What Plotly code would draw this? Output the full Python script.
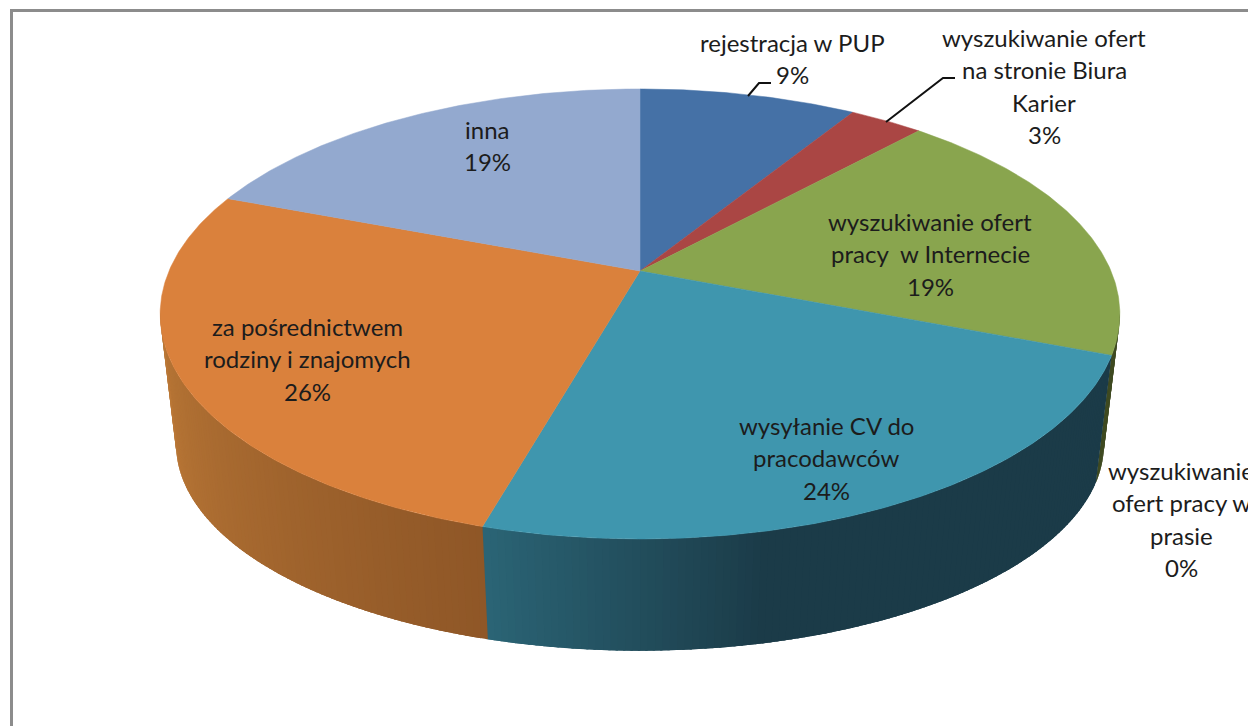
"""Tilted 3D-look pie of job search methods, built from filled Plotly traces."""

import numpy as np
import plotly.graph_objects as go

# Data
categories = [
    "rejestracja w PUP",
    "wyszukiwanie ofert na stronie Biura Karier",
    "wyszukiwanie ofert pracy w Internecie",
    "wyszukiwanie ofert pracy w prasie",
    "wysyłanie CV do pracodawców",
    "za pośrednictwem rodziny i znajomych",
    "inna",
]
shares = [8.8, 3.0, 19.1, 0.0, 23.5, 26.4, 19.2]
label_lines = [
    ["rejestracja w PUP"],
    ["wyszukiwanie ofert", "na stronie Biura", "Karier"],
    ["wyszukiwanie ofert", "pracy\u00a0 w Internecie"],
    ["wyszukiwanie", "ofert pracy w", "prasie"],
    ["wysyłanie CV do", "pracodawców"],
    ["za pośrednictwem", "rodziny i znajomych"],
    ["inna"],
]

# Styling and layout
top_colors = ["#4571A6", "#AA4644", "#89A54E", "#71588F", "#3F96AE", "#DA813C", "#93A9CF"]
wall_near = ["#2B5F80", "#6E2C2B", "#3F4A20", "#3F3355", "#1B3B48", "#BC7937", "#5F6F8A"]
wall_far = ["#2B5F80", "#6E2C2B", "#3F4A20", "#3F3355", "#2B6576", "#8F5727", "#5F6F8A"]
label_centers = [(792, 42), (1044, 37), (930, 221), (1181, 470), (826, 425), (307, 326), (487, 129)]
LINE_GAP = 32.5
FONT = dict(family="Lato, Carlito, sans-serif", size=24, color="#1c1c1c")
WIDTH, HEIGHT = 1248, 726

# Perspective of the top and bottom discs, in pixels
CX = 640
TOP = dict(y0=271, a=471.0, b=216.8, k=0.191)
BOTTOM = dict(y0=405, a=455.5, b=199.0, k=0.19)
# The wall only shows between the disc's two silhouette points
WALL_FROM, WALL_TO = 100, 260


def project(angles_deg, disc):
    """Map clockwise-from-north angles on a disc to picture coordinates."""

    rad = np.radians(angles_deg)
    u, v = np.sin(rad), np.cos(rad)
    w = 1 + disc["k"] * v
    return CX + disc["a"] * u / w, disc["y0"] - disc["b"] * v / w


def mix(c1, c2, t):
    """Blend two hex colours."""

    a = [int(c1[i:i + 2], 16) for i in (1, 3, 5)]
    b = [int(c2[i:i + 2], 16) for i in (1, 3, 5)]
    return "rgb({},{},{})".format(*[round(p + (q - p) * t) for p, q in zip(a, b)])


edges = np.concatenate([[0], np.cumsum(shares)]) * 3.6

fig = go.Figure()

# Side wall: strips overlap the next one so no seams show
for i, (start, end) in enumerate(zip(edges[:-1], edges[1:])):
    lo, hi = max(start, WALL_FROM), min(end, WALL_TO)
    if hi <= lo:
        continue
    steps = max(int((hi - lo) / 0.75), 1)
    for j in range(steps):
        a0 = lo + (hi - lo) * j / steps
        a1 = lo + (hi - lo) * (j + 1) / steps
        if i == 4:
            # flat dark until x of about 770, then lighter towards the seam
            t = min(max((a0 - 167) / (hi - 167), 0), 1)
        else:
            t = (a0 - lo) / (hi - lo)
            t = 1 - t if i == 5 else t
        color = mix(wall_near[i], wall_far[i], t)
        reach = a1 + 1.0 if j < steps - 1 else a1
        arc = np.linspace(a0, reach, 3)
        x_top, y_top = project(arc, TOP)
        x_bot, y_bot = project(arc[::-1], BOTTOM)
        fig.add_trace(
            go.Scatter(
                x=np.concatenate([x_top, x_bot]),
                y=np.concatenate([y_top, y_bot]),
                mode="lines",
                fill="toself",
                fillcolor=color,
                line=dict(width=0),
                hoverinfo="skip",
                showlegend=False,
            )
        )

# Top face
for i, (start, end) in enumerate(zip(edges[:-1], edges[1:])):
    if end <= start:
        continue
    arc = np.linspace(start, end, max(int(end - start) * 2, 4))
    x_arc, y_arc = project(arc, TOP)
    fig.add_trace(
        go.Scatter(
            x=np.concatenate([[CX], x_arc, [CX]]),
            y=np.concatenate([[TOP["y0"]], y_arc, [TOP["y0"]]]),
            mode="lines",
            fill="toself",
            fillcolor=top_colors[i],
            line=dict(color=top_colors[i], width=0.5),
            name=categories[i],
            hoverinfo="name",
            showlegend=False,
        )
    )

# Labels: one annotation a line, Excel's line spacing is wider than Plotly's
for lines, value, (lx, ly) in zip(label_lines, shares, label_centers):
    for n, text in enumerate(lines + [f"{round(value)}%"]):
        fig.add_annotation(
            x=lx,
            y=ly + n * LINE_GAP,
            text=text,
            showarrow=False,
            font=FONT,
            xanchor="center",
            yanchor="middle",
        )

# Leader lines and the chart border that runs off the crop
fig.add_shape(type="path", path="M 748 96 L 759 83 L 771 83", line=dict(color="#111111", width=2))
fig.add_shape(type="path", path="M 886 122 L 943 78 L 955 78", line=dict(color="#111111", width=2))
fig.add_shape(
    type="path",
    path=f"M 11.5 {HEIGHT} L 11.5 10.5 L {WIDTH} 10.5",
    line=dict(color="#8C8C8C", width=3),
)

fig.update_xaxes(visible=False, range=[0, WIDTH], fixedrange=True)
fig.update_yaxes(visible=False, range=[HEIGHT, 0], fixedrange=True)
fig.update_layout(
    width=WIDTH,
    height=HEIGHT,
    margin=dict(l=0, r=0, t=0, b=0),
    paper_bgcolor="white",
    plot_bgcolor="white",
    showlegend=False,
)

fig.write_html(
    "out.html",
    config={"displayModeBar": False},
    post_script="document.body.style.margin='0';",
)
